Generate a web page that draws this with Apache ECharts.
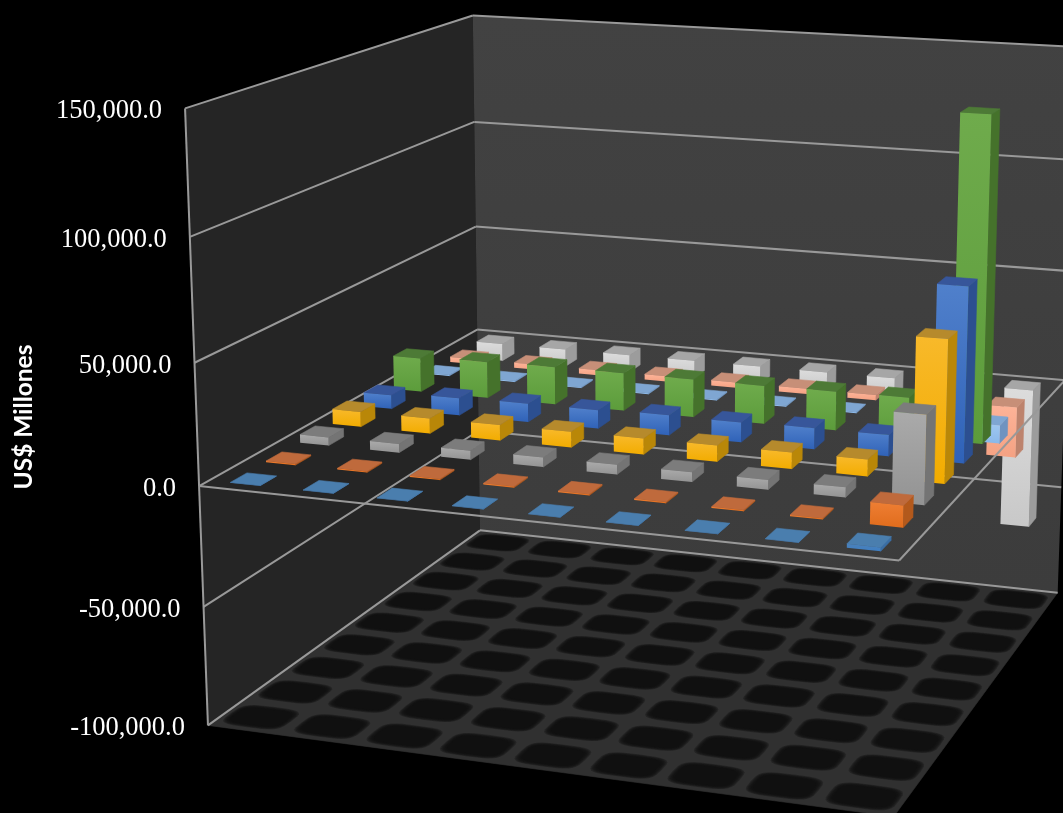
<!DOCTYPE html>
<html>
<head>
<meta charset="utf-8">
<style>html,body{margin:0;padding:0;background:#000}#c{width:1063px;height:813px}</style>
<script src="https://cdn.jsdelivr.net/npm/echarts@6/dist/echarts.min.js"></script>
</head>
<body>
<div id="c"></div>
<script>
// ---------- data (rows run from the front of the chart to the back) ----------
const categories = ['1','2','3','4','5','6','7','8','9'];
const tickValues = [-100000,-50000,0,50000,100000,150000];
const tickLabels = ['-100,000.0','-50,000.0','0.0','50,000.0','100,000.0','150,000.0'];
const axisTitle = 'US$ Millones';
const serie1 = [100,100,100,100,100,100,100,100,1500];
const serie2 = [500,500,500,500,500,500,500,500,8800];
const serie3 = [3500,3700,3800,4000,4000,4000,4000,4100,36300];
const serie4 = [6500,6500,6600,6700,6800,6800,6900,7000,59000];
const serie5 = [6000,7500,8000,8000,8700,8500,9000,9000,73500];
const serie6 = [15000,16000,16500,16500,16500,16500,16800,17000,138000];
const serie7 = [-400,-400,-400,-400,-400,-400,-400,-400,-8000];
const serie8 = [-2400,-2400,-2400,-2400,-2400,-2400,-2400,-2400,-22500];
const serie9 = [-8000,-8000,-8000,-8000,-8000,-8000,-8000,-8000,-63000];

// ---------- styling ----------
const rows = [
  {name:'Serie 1', data:serie1, front:['#4a80b8','#3f7fc4'], top:'#4a7eae', side:'#3a6ea5'},
  {name:'Serie 2', data:serie2, front:['#ee7e33','#e06c1c'], top:'#bf6a3c', side:'#b3591c'},
  {name:'Serie 3', data:serie3, front:['#aaaaaa','#939393'], top:'#7c7c7c', side:'#747474'},
  {name:'Serie 4', data:serie4, front:['#f8b92a','#f2ac00'], top:'#b68a2c', side:'#b98708'},
  {name:'Serie 5', data:serie5, front:['#5080cb','#2f62b8'], top:'#37569a', side:'#2c4f90'},
  {name:'Serie 6', data:serie6, front:['#6fab4c','#5c9c3b'], top:'#4d7a36', side:'#45722b'},
  {name:'Serie 7', data:serie7, front:['#a0c8f0','#8ab8ea'], top:'#7fa6d2', side:'#6f93c0'},
  {name:'Serie 8', data:serie8, front:['#fdb398','#f5a283'], top:'#c78f78', side:'#bd836d'},
  {name:'Serie 9', data:serie9, front:['#dcdcdc','#c8c8c8'], top:'#a6a6a6', side:'#9c9c9c'}
];
const BAR_U = 0.41, BAR_V = 0.46;
const LINE = '#999999';

// ---------- camera: least-squares fit of the box corners, (u,v,w) -> screen ----------
const corners = [
  [0,0,0,207,725],[0,0,1,185,108],[0,0,0.4,200,486],
  [0,1,0,480,530],[0,1,1,473,15],[0,1,0.4,477,331],
  [1,1,0,1057,593],[1,1,0.4,1066,379],[1,1,1,1076,47],
  [1,0,0,895,816],[1,0,0.4,898,562]
];
function fitCamera(pts){
  const A=[],b=[];
  pts.forEach(([u,v,w,X,Y])=>{
    A.push([1,u,v,w,0,0,0,0,-X*u,-X*v,-X*w]); b.push(X);
    A.push([0,0,0,0,1,u,v,w,-Y*u,-Y*v,-Y*w]); b.push(Y);
  });
  const n=11, M=[];
  for(let i=0;i<n;i++){
    M.push(new Array(n+1).fill(0));
    for(let j=0;j<n;j++) for(let k=0;k<A.length;k++) M[i][j]+=A[k][i]*A[k][j];
    for(let k=0;k<A.length;k++) M[i][n]+=A[k][i]*b[k];
  }
  for(let i=0;i<n;i++){
    let p=i; for(let r=i+1;r<n;r++) if(Math.abs(M[r][i])>Math.abs(M[p][i])) p=r;
    [M[i],M[p]]=[M[p],M[i]];
    for(let r=0;r<n;r++){ if(r===i) continue; const f=M[r][i]/M[i][i];
      for(let c=i;c<=n;c++) M[r][c]-=f*M[i][c]; }
  }
  return M.map((r,i)=>r[n]/r[i]);
}
const cam = fitCamera(corners);
function P(u,v,w){
  const d=1+cam[8]*u+cam[9]*v+cam[10]*w;
  return [(cam[0]+cam[1]*u+cam[2]*v+cam[3]*w)/d,(cam[4]+cam[5]*u+cam[6]*v+cam[7]*w)/d];
}
const W=1063,H=813;
const wOf=(api,val)=>1-api.coord([0,val])[1]/H;
const poly=(pts,fill,extra)=>({type:'polygon',silent:true,shape:{points:pts},
  style:Object.assign({fill:fill,stroke:typeof fill==='string'?fill:null,lineWidth:typeof fill==='string'?0.6:0},extra||{})});
const seg=(a,b,c)=>({type:'line',silent:true,shape:{x1:a[0],y1:a[1],x2:b[0],y2:b[1]},style:{stroke:c||LINE,lineWidth:2}});
const base={type:'custom',coordinateSystem:'cartesian2d',xAxisIndex:0,yAxisIndex:0,clip:false,silent:true,animation:false};

// floor cells (soft nested layers), walls and the lines behind the bars
const cellLayers=[[0.43,0.39],[0.415,0.37],[0.40,0.35],[0.385,0.33],[0.37,0.31],[0.355,0.29]];
function renderBack(params,api){
  const ch=[];
  const w0=wOf(api,tickValues[0]), w1=wOf(api,tickValues[tickValues.length-1]);
  ch.push(poly([P(0,0,w0),P(1,0,w0),P(1,1,w0),P(0,1,w0)],'#303030'));
  const n=categories.length, m=rows.length;
  for(let i=0;i<n;i++) for(let j=0;j<m;j++){
    cellLayers.forEach(([hu,hv])=>{
      const pts=[];
      for(let t=0;t<28;t++){
        const a=t/28*2*Math.PI, c=Math.cos(a), s=Math.sin(a);
        const x=Math.sign(c)*Math.pow(Math.abs(c),0.5), y=Math.sign(s)*Math.pow(Math.abs(s),0.5);
        pts.push(P((i+0.5+hu*x)/n,(j+0.5+hv*y)/m,w0));
      }
      ch.push({type:'polygon',silent:true,shape:{points:pts},style:{fill:'rgba(17,17,17,0.38)'}});
    });
  }
  ch.push(poly([P(0,0,w0),P(0,1,w0),P(0,1,w1),P(0,0,w1)],'#252525'));
  ch.push(poly([P(0,1,w0),P(1,1,w0),P(1,1,w1),P(0,1,w1)],
    {type:'linear',x:0,y:0,x2:0,y2:1,colorStops:[{offset:0,color:'#424242'},{offset:1,color:'#3c3c3c'}]}));
  tickValues.forEach(t=>{
    const w=wOf(api,t);
    ch.push(seg(P(0,0,w),P(0,1,w)));
    ch.push(seg(P(0,1,w),P(1,1,w)));
  });
  ch.push(seg(P(0,0,w0),P(0,0,w1)));
  return {type:'group',children:ch};
}
function renderFront(params,api){
  const wz=wOf(api,0);
  return {type:'group',children:[seg(P(0,0,wz),P(1,0,wz)),seg(P(1,0,wz),P(1,1,wz))]};
}
function renderTick(params,api){
  const val=api.value(1), i=params.dataIndex, w=wOf(api,val), p=P(0,0,w);
  return {type:'text',silent:true,x:p[0]-23,y:p[1]+3,
    style:{text:tickLabels[i],fill:'#ffffff',font:'26.5px "Liberation Serif"',align:'right',verticalAlign:'middle'}};
}
function makeBarRenderer(rowIndex){
  const row=rows[rowIndex], m=rows.length;
  return function(params,api){
    const pv=api.coord([api.value(0),api.value(1)]);
    const cu=pv[0]/W, hu=api.size([1,0])[0]/W*BAR_U/2;
    const cv=(rowIndex+0.5)/m, hv=BAR_V/m/2;
    const wv=1-pv[1]/H, wz=wOf(api,0);
    const hi=Math.max(wv,wz), lo=Math.min(wv,wz);
    const u0=cu-hu,u1=cu+hu,v0=cv-hv,v1=cv+hv;
    const grad={type:'linear',x:0,y:0,x2:0,y2:1,colorStops:[{offset:0,color:row.front[0]},{offset:1,color:row.front[1]}]};
    return {type:'group',children:[
      poly([P(u1,v0,lo),P(u1,v1,lo),P(u1,v1,hi),P(u1,v0,hi)],row.side),
      poly([P(u0,v0,hi),P(u1,v0,hi),P(u1,v1,hi),P(u0,v1,hi)],row.top),
      poly([P(u0,v0,lo),P(u1,v0,lo),P(u1,v0,hi),P(u0,v0,hi)],grad)
    ]};
  };
}

const series=[
  Object.assign({},base,{name:'walls',z:1,data:[[0,0]],renderItem:renderBack}),
  Object.assign({},base,{name:'ticks',z:60,data:tickValues.map(t=>[0,t]),renderItem:renderTick}),
  Object.assign({},base,{name:'zero plane',z:50,data:[[0,0]],renderItem:renderFront})
];
rows.forEach((r,j)=>{
  series.push(Object.assign({},base,{
    name:r.name, z:30-j,
    data:r.data.map((v,i)=>[i,v]),
    encode:{x:0,y:1},
    renderItem:makeBarRenderer(j)
  }));
});

const chart=echarts.init(document.getElementById('c'),null,{renderer:'canvas',width:W,height:H});
chart.setOption({
  backgroundColor:'#000000',
  animation:false,
  tooltip:{show:false},
  grid:{left:0,top:0,width:W,height:H,containLabel:false},
  xAxis:{type:'category',data:categories,show:false},
  yAxis:{type:'value',min:tickValues[0],max:tickValues[tickValues.length-1],interval:50000,show:false},
  graphic:[{type:'text',silent:true,x:24,y:417,rotation:Math.PI/2,z:70,
    style:{text:axisTitle,fill:'#ffffff',font:'bold 24.5px "Lato"',align:'center',verticalAlign:'middle'}}],
  series:series
});
</script>
</body>
</html>
